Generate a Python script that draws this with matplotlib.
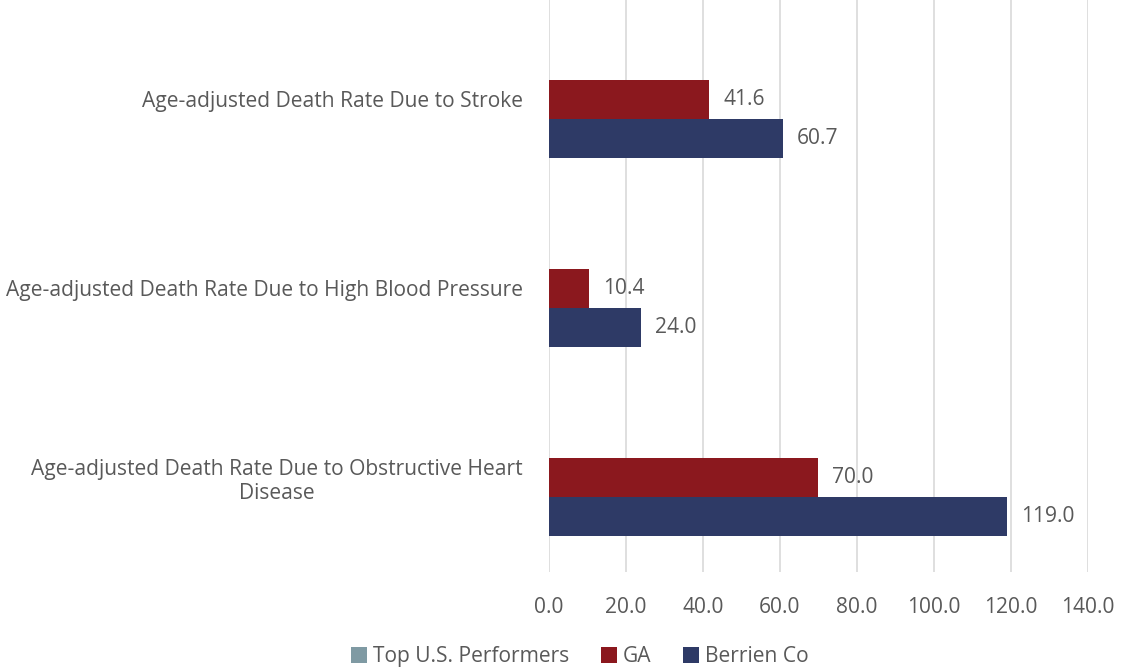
import numpy as np
import matplotlib.pyplot as plt

plt.rcParams['font.family'] = ['Open Sans', 'DejaVu Sans']

categories = ['Age-adjusted Death Rate Due to Obstructive Heart\nDisease',
              'Age-adjusted Death Rate Due to High Blood Pressure',
              'Age-adjusted Death Rate Due to Stroke']
series_names = ['Top U.S. Performers', 'GA', 'Berrien Co']
top_us = [np.nan, np.nan, np.nan]
ga = [70.0, 10.4, 41.6]
berrien = [119.0, 24.0, 60.7]
x_ticks = [0, 20, 40, 60, 80, 100, 120, 140]

colors = ['#7F9AA3', '#8B181E', '#2E3A66']
text_color = '#595959'
fs = 15.1

fig = plt.figure(figsize=(11.22, 6.71), dpi=100)
ax = fig.add_axes([0.4893, 0.1475, 0.4804, 0.8525])

y = np.arange(len(categories))
h = 0.206
offsets = [h, 0, -h]
for vals, off, col, name in zip([top_us, ga, berrien], offsets, colors, series_names):
    bars = ax.barh(y + off, np.nan_to_num(vals), height=h, color=col, label=name, zorder=3)
    if not np.all(np.isnan(vals)):
        ax.bar_label(bars, fmt='%.1f', padding=10, fontsize=fs, color=text_color)

ax.set_xlim(0, 140)
ax.set_ylim(-0.5, 2.526)
ax.set_xticks(x_ticks)
ax.set_xticklabels([f'{v:.1f}' for v in x_ticks], fontsize=fs, color=text_color)
ax.set_yticks(y)
ax.set_yticklabels(categories, fontsize=fs, color=text_color, multialignment='center',
                   linespacing=1.2)
ax.tick_params(axis='both', length=0)
ax.tick_params(axis='y', pad=19)
ax.tick_params(axis='x', pad=18)
ax.grid(axis='x', color='#D9D9D9', linewidth=1.2, zorder=0)
for s in ax.spines.values():
    s.set_visible(False)

ax.legend(loc='center', bbox_to_anchor=(0.517, 0.021), bbox_transform=fig.transFigure,
          ncol=3, frameon=False, fontsize=fs, labelcolor=text_color,
          handlelength=0.75, handleheight=0.75, handletextpad=0.3, columnspacing=1.5)

fig.savefig('out.png', dpi=100)
